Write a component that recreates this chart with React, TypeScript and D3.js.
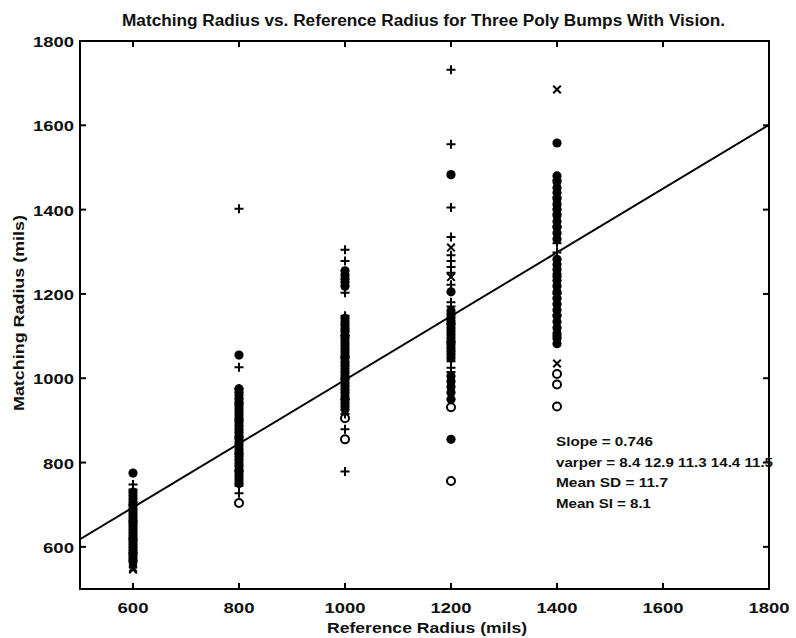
import React from "react";
import * as d3 from "d3";

const refRadii = [600, 800, 1000, 1200, 1400];
const xTicks = [600, 800, 1000, 1200, 1400, 1600, 1800];
const yTicks = [600, 800, 1000, 1200, 1400, 1600, 1800];

// filled circle markers, one list per reference radius
const filledVals = [
  [775, 730, 722, 714, 706, 698, 690, 683, 676, 669, 662, 655, 648, 641, 634, 627, 620, 613, 606, 599, 592, 585, 578, 571, 565],
  [1055, 975, 967, 959, 951, 943, 935, 927, 919, 911, 903, 895, 887, 879, 871, 863, 855, 847, 839, 831, 823, 815, 807, 799, 791, 783, 775, 767, 759, 750],
  [1255, 1245, 1236, 1227, 1218, 1142, 1134, 1126, 1118, 1110, 1102, 1094, 1086, 1078, 1070, 1062, 1054, 1046, 1038, 1030, 1022, 1014, 1006, 998, 990, 982, 974, 966, 958, 950, 942, 934, 926],
  [1483, 1205, 1160, 1152, 1144, 1136, 1128, 1120, 1112, 1104, 1096, 1088, 1080, 1072, 1064, 1056, 1048, 1005, 992, 980, 966, 950, 855],
  [1558, 1480, 1466, 1452, 1440, 1426, 1412, 1400, 1386, 1372, 1358, 1344, 1330, 1282, 1270, 1258, 1246, 1232, 1218, 1204, 1190, 1176, 1162, 1148, 1134, 1120, 1106, 1094, 1082],
];
const openVals = [
  [],
  [704],
  [905, 855],
  [931, 756],
  [1010, 985, 933],
];
const plusVals = [
  [748, 736, 700, 660, 620, 585],
  [1402, 1026, 975, 940, 900, 860, 820, 780, 745, 727],
  [1305, 1278, 1203, 1148, 1100, 1050, 1000, 950, 915, 879, 779],
  [1732, 1555, 1405, 1335, 1292, 1278, 1264, 1250, 1222, 1180, 1170, 1130, 1085, 1040, 1025, 1015],
  [1470, 1430, 1390, 1360, 1320, 1298, 1240, 1200, 1150, 1100],
];
const crossVals = [
  [558, 550, 546],
  [960, 880, 800, 760],
  [1120, 1060, 990, 940],
  [1310, 1240],
  [1685, 1410, 1355, 1215, 1180, 1035],
];
const fitX = [500, 1800];
const fitY = [618, 1601];

const titleText = "Matching Radius vs. Reference Radius for Three Poly Bumps With Vision.";
const xLabel = "Reference Radius (mils)";
const yLabel = "Matching Radius (mils)";
const notes = ["Slope = 0.746", "varper = 8.4 12.9 11.3 14.4 11.5", "Mean SD = 11.7", "Mean SI = 8.1"];
const noteLengths = [97, 217, 112, 95];

export default function App() {
  const W = 796, H = 638;
  const L = 80, R = 769, T = 41, B = 589;
  const x = d3.scaleLinear().domain([500, 1800]).range([L, R]);
  const y = d3.scaleLinear().domain([500, 1800]).range([B, T]);
  const font = "'Liberation Sans', Arial, Helvetica, sans-serif";
  const tick = 6;

  const line = d3.line<number>().x((d) => x(d)).y((_, i) => y(fitY[i]));

  const plusPath = (cx: number, cy: number, s: number) =>
    `M${cx - s},${cy}H${cx + s}M${cx},${cy - s}V${cy + s}`;
  const crossPath = (cx: number, cy: number, s: number) =>
    `M${cx - s},${cy - s}L${cx + s},${cy + s}M${cx - s},${cy + s}L${cx + s},${cy - s}`;

  const tickLen = (t: number) => (String(t).length === 4 ? 41 : 31);

  return (
    <svg width={W} height={H} style={{ position: "absolute", left: 0, top: 0, background: "#fff" }}>
      <rect x={0} y={0} width={W} height={H} fill="#fff" />
      <text x={423.5} y={26} textAnchor="middle" fontFamily={font} fontSize={16} fontWeight="bold" fill="#111"
        textLength={603} lengthAdjust="spacingAndGlyphs">
        {titleText}
      </text>

      {/* regression line */}
      <path d={line(fitX) || ""} stroke="#000" strokeWidth={2} fill="none" />

      {/* markers */}
      {filledVals.map((vals, i) =>
        vals.map((v, j) => (
          <circle key={`f${i}-${j}`} cx={x(refRadii[i])} cy={y(v)} r={4.6} fill="#000" />
        ))
      )}
      {openVals.map((vals, i) =>
        vals.map((v, j) => (
          <circle key={`o${i}-${j}`} cx={x(refRadii[i])} cy={y(v)} r={4} fill="#fff" stroke="#000" strokeWidth={2} />
        ))
      )}
      {plusVals.map((vals, i) =>
        vals.map((v, j) => (
          <path key={`p${i}-${j}`} d={plusPath(x(refRadii[i]), y(v), 4.5)} stroke="#000" strokeWidth={2} />
        ))
      )}
      {crossVals.map((vals, i) =>
        vals.map((v, j) => (
          <path key={`c${i}-${j}`} d={crossPath(x(refRadii[i]), y(v), 3.8)} stroke="#000" strokeWidth={2} />
        ))
      )}

      {/* axes box */}
      <rect x={L} y={T} width={R - L} height={B - T} fill="none" stroke="#000" strokeWidth={2} />
      {xTicks.map((t) => (
        <g key={`xt${t}`}>
          <line x1={x(t)} x2={x(t)} y1={B} y2={B - tick} stroke="#000" strokeWidth={2} />
          <line x1={x(t)} x2={x(t)} y1={T} y2={T + tick} stroke="#000" strokeWidth={2} />
          <text x={x(t)} y={B + 24} textAnchor="middle" fontFamily={font} fontSize={15} fontWeight="bold" fill="#111"
            textLength={tickLen(t)} lengthAdjust="spacingAndGlyphs">
            {t}
          </text>
        </g>
      ))}
      {yTicks.map((t) => (
        <g key={`yt${t}`}>
          <line x1={L} x2={L + tick} y1={y(t)} y2={y(t)} stroke="#000" strokeWidth={2} />
          <line x1={R} x2={R - tick} y1={y(t)} y2={y(t)} stroke="#000" strokeWidth={2} />
          <text x={L - 6 - tickLen(t)} y={y(t) + 6} fontFamily={font} fontSize={15} fontWeight="bold" fill="#111"
            textLength={tickLen(t)} lengthAdjust="spacingAndGlyphs">
            {t}
          </text>
        </g>
      ))}

      <text x={427} y={633} textAnchor="middle" fontFamily={font} fontSize={15} fontWeight="bold" fill="#111"
        textLength={200} lengthAdjust="spacingAndGlyphs">
        {xLabel}
      </text>
      <text
        transform={`translate(24, 313) rotate(-90)`}
        textAnchor="middle"
        fontFamily={font}
        fontSize={15}
        fontWeight="bold"
        fill="#111"
        textLength={196}
        lengthAdjust="spacingAndGlyphs"
      >
        {yLabel}
      </text>

      {notes.map((n, i) => (
        <text key={n} x={556} y={446 + i * 20.5} fontFamily={font} fontSize={12.5} fontWeight="bold" fill="#111"
          textLength={noteLengths[i]} lengthAdjust="spacingAndGlyphs">
          {n}
        </text>
      ))}
    </svg>
  );
}
